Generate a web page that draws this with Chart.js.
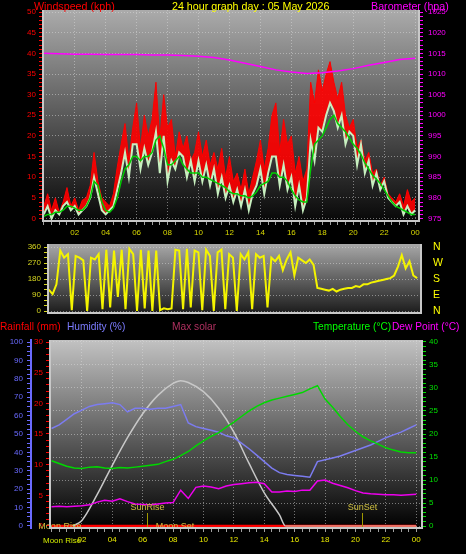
<!DOCTYPE html>
<html>
<head>
<meta charset="utf-8">
<title>24 hour graph</title>
<script src="https://cdn.jsdelivr.net/npm/chart.js@4.4.1/dist/chart.umd.min.js"></script>
<style>
  html, body { margin: 0; padding: 0; background: #000; }
  body { position: relative; width: 466px; height: 554px; overflow: hidden; font-family: "Liberation Sans", Arial, sans-serif; }
  canvas { position: absolute; left: 0; }
  .txt { position: absolute; white-space: nowrap; line-height: 12px; }
</style>
</head>
<body>
<canvas id="windChart" width="466" height="243" style="top:0"></canvas>
<canvas id="dirChart" width="466" height="87" style="top:235px"></canvas>
<canvas id="climateChart" width="466" height="224" style="top:330px"></canvas>

<div class="txt" style="left:34px;top:0;font-size:10.7px;color:#ff0000">Windspeed (kph)</div>
<div class="txt" style="left:172px;top:0;font-size:10.7px;color:#ffff00">24 hour graph day : 05 May 2026</div>
<div class="txt" style="left:371px;top:0;font-size:10.7px;color:#ff00ff">Barometer (hpa)</div>

<div class="txt" style="left:0;top:321px;font-size:10.2px;color:#ff0000">Rainfall (mm)</div>
<div class="txt" style="left:67px;top:321px;font-size:10.2px;color:#7c7cff">Humidity (%)</div>
<div class="txt" style="left:172px;top:321px;font-size:10.2px;color:#b03060">Max solar</div>
<div class="txt" style="left:313px;top:321px;font-size:10.2px;color:#00ff00">Temperature (°C)</div>
<div class="txt" style="left:392px;top:321px;font-size:10.2px;color:#ff00ff">Dew Point (°C)</div>
<div class="txt" style="left:43px;top:535px;font-size:8px;color:#d0e800">Moon Rise</div>

<script>
// Wind (kph), every 15 minutes from 00:00 to 24:00
const windGust = [
  3, 6, 2, 5, 1.5,
  4, 7.5, 3, 5,
  2, 4.5, 5, 8,
  16, 9, 5,
  4, 3, 6, 12.5,
  18, 23, 14, 22,
  28, 17, 25, 20,
  24, 33, 19, 30,
  22, 24, 15, 21,
  17, 20, 14, 16,
  21, 15, 19, 13,
  16, 12, 17, 10,
  15, 9, 11, 7,
  12, 6, 10, 14,
  19, 12, 17, 25,
  28, 16, 24, 18,
  20, 11, 15, 9,
  12, 33, 28, 36,
  31, 35, 38, 33,
  29, 33, 25, 22,
  24, 17, 19, 14,
  16, 11, 12, 8,
  10, 6, 5, 4,
  6, 3, 7, 4, 5
];
const windSpeed = [
  1, 3, 0, 2, 1,
  3, 4, 2, 3,
  1, 2, 3, 5,
  10, 6, 2,
  1, 2, 3, 7,
  11, 16, 10, 18,
  18, 12, 17, 13,
  16, 21, 11, 20,
  9, 14, 12, 16,
  15, 10, 14, 9,
  14, 9, 13, 8,
  12, 6, 10, 5,
  8, 4, 7, 3,
  7, 2, 6, 8,
  12, 6, 11, 15,
  15, 8, 13, 7,
  10, 3, 8, 2,
  5, 19, 14, 22,
  21, 25, 28, 26,
  22, 25, 18, 21,
  20, 13, 18, 11,
  14, 8, 11, 7,
  9, 5, 4, 3,
  4, 1, 3, 1, 2
];
const windAvg = [
  0.5, 1, 1, 1.5, 1.5,
  2, 3, 3, 2.5,
  2, 2, 3, 5,
  9, 8, 4,
  2, 1.5, 2.5, 5,
  9, 12, 13, 15,
  15, 14, 15, 15,
  16, 19, 20, 17,
  13, 13, 14, 15,
  13, 12, 11, 11,
  11, 10, 10, 9.5,
  9, 8.5, 8, 7.5,
  6.5, 6, 6, 5.5,
  5.5, 5, 5.5, 6.5,
  8, 8.5, 9, 11,
  11, 10, 10, 9,
  7, 5.5, 4.5, 4,
  4, 12, 18, 19,
  20, 22, 24, 25,
  23, 22, 21, 19.5,
  18, 17, 15.5, 13.5,
  12, 10.5, 9.5, 8.5,
  7, 5.5, 4, 3,
  2.5, 2, 1.5, 1, 1
];

// Barometer (hpa), hourly
const barometer = [
  1015.0, 1014.9, 1014.8, 1014.8, 1014.7, 1014.7, 1014.7, 1014.6, 1014.6, 1014.5,
  1014.3, 1014.0, 1013.4, 1012.6, 1011.8, 1011.0, 1010.5, 1010.1, 1010.3, 1010.7,
  1011.3, 1012.1, 1012.8, 1013.5, 1013.8
];

// Wind direction (degrees), every 15 minutes
const windDir = [
  120, 95, 150, 340,
  300, 320, 5, 310,
  300, 285, 0, 300,
  290, 320, 10, 345,
  20, 340, 80, 345,
  10, 350, 320, 0,
  345, 15, 340, 0,
  340, 5, 15, 10,
  15, 345, 340, 10,
  350, 20, 340, 330,
  5, 345, 310, 0,
  330, 345, 10, 320,
  300, 0, 320, 290,
  330, 10, 320, 300,
  310, 20, 300, 280,
  310, 230, 290, 330,
  200, 300, 285, 270,
  290, 260, 130, 125,
  120, 115, 125, 110,
  120, 125, 130, 130,
  140, 135, 150, 150,
  160, 165, 170, 175,
  180, 185, 200, 250,
  315, 240, 280, 200, 185
];

// Humidity (%), temperature and dew point (°C), every 30 minutes
const humidity = [
  53, 55, 58, 61, 63, 65, 66, 66.5, 67, 66,
  62, 64, 64, 63.5, 64, 64, 65, 66, 56, 54,
  53, 52, 51, 49, 48, 45, 42, 38.5, 35, 31.5,
  29, 28, 27.5, 27, 26.5, 35, 36, 37, 38, 39.5,
  41, 42.5, 44, 46, 48, 49.5, 51, 53, 55
];
const temperature = [
  14.2, 13.6, 13, 12.6, 12.5, 12.8, 12.9, 12.6, 12.5, 12.7,
  12.6, 12.8, 13, 13.2, 13.4, 14, 14.5, 15.3, 16.2, 17.4,
  18.5, 19.5, 20.3, 21.5, 22.6, 23.8, 25, 26, 26.8, 27.4,
  27.8, 28.2, 28.6, 29, 29.8, 30.5, 27.6, 25.8, 23.8, 22,
  20.6, 19.4, 18.5, 17.8, 17, 16.5, 16.1, 15.9, 15.9
];
const dewPoint = [
  4.2, 4.3, 4.2, 4.3, 4.4, 4.6, 5.2, 5.6, 5.4, 5.9,
  5.3, 4.8, 4.7, 4.6, 4.8, 5, 5.1, 7.8, 6, 8.4,
  8.7, 8.5, 8.1, 8.7, 9, 9.2, 9.4, 9.5, 9.2, 7.4,
  7.4, 7.6, 7.5, 7.8, 7.8, 9.8, 10, 9.3, 8.8, 8.3,
  7.7, 7.2, 7, 6.9, 6.8, 6.8, 6.7, 6.8, 6.9
];

// Max solar curve (on the humidity scale) and rainfall (mm)
const solarHours = [1.4, 2, 3, 4, 5, 6, 7, 8, 8.5, 9, 10, 11, 12, 13, 14, 15, 15.4, 24];
const maxSolar = [0, 3, 17, 33, 48, 61, 71, 77.5, 79, 78, 73, 64, 51, 34, 18, 6, 0, 0];
const rainHours = [0, 6, 12, 18, 24];
const rainfall = [0, 0, 0, 0, 0];

// Sun and moon events (hour of the day)
const sunEvents = ['SunRise', 'SunSet'];
const sunHours = [6.3, 20.45];
const moonEvents = ['Moon Rise', 'Moon Set'];
const moonHours = [0.55, 8.13];

// Tick labels
const hourTicks = [2, 4, 6, 8, 10, 12, 14, 16, 18, 20, 22, 24];
const hourLabels = ['02', '04', '06', '08', '10', '12', '14', '16', '18', '20', '22', '00'];
const dirTicks = [0, 90, 180, 270, 360];
const compassLabels = ['N', 'E', 'S', 'W', 'N'];

// Utils
const quarterHours = windGust.map((_, i) => i * 0.25);
const hours = barometer.map((_, i) => i);
const halfHours = humidity.map((_, i) => i * 0.5);
const toPoints = (xs, ys) => ys.map((y, i) => ({ x: xs[i], y: y }));
const isMult = (v, m) => Math.abs(v / m - Math.round(v / m)) < 1e-6;
const GRID = 'rgba(220,220,220,0.5)';

// Ticks on every multiple of the step inside the scale range
const stepTicks = step => scale => {
  const t = [];
  for (let k = Math.ceil(scale.min / step - 1e-9); k * step <= scale.max + 1e-9; k++) {
    t.push({ value: +(k * step).toFixed(6) });
  }
  scale.ticks = t;
};

Chart.defaults.font.family = '"Liberation Sans", Arial, sans-serif';
Chart.defaults.font.size = 8;

// Gray gradient background and light frame of each plot
const panelPlugin = {
  id: 'panel',
  beforeDraw(chart, args, opts) {
    const { ctx, chartArea: a } = chart;
    const g = ctx.createLinearGradient(0, a.top, 0, a.bottom);
    g.addColorStop(0, opts.top);
    g.addColorStop(1, opts.bottom);
    ctx.save();
    ctx.fillStyle = g;
    ctx.fillRect(a.left, a.top, a.right - a.left, a.bottom - a.top);
    ctx.restore();
  },
  afterDraw(chart) {
    const { ctx, chartArea: a } = chart;
    ctx.save();
    ctx.lineWidth = 2;
    ctx.strokeStyle = '#c8c8c8';
    ctx.beginPath();
    ctx.moveTo(a.left, a.top);
    ctx.lineTo(a.left, a.bottom);
    ctx.lineTo(a.right, a.bottom);
    ctx.lineTo(a.right, a.top);
    ctx.stroke();
    ctx.restore();
  }
};

// Sunrise / sunset markers and moon labels
const sunMoonPlugin = {
  id: 'sunMoon',
  afterDatasetsDraw(chart) {
    const { ctx, chartArea: a, scales } = chart;
    ctx.save();
    ctx.font = '9px "Liberation Sans", Arial, sans-serif';
    ctx.textAlign = 'center';
    sunEvents.forEach((name, i) => {
      const px = Math.round(scales.x.getPixelForValue(sunHours[i])) + 0.5;
      ctx.strokeStyle = '#a09800';
      ctx.lineWidth = 1;
      ctx.beginPath();
      ctx.moveTo(px, a.bottom - 15);
      ctx.lineTo(px, a.bottom);
      ctx.stroke();
      ctx.fillStyle = '#d0c040';
      ctx.fillText(name, px, a.bottom - 18);
    });
    moonEvents.forEach((name, i) => {
      ctx.fillStyle = '#d0c040';
      ctx.fillText(name, scales.x.getPixelForValue(moonHours[i]), a.bottom + 1);
    });
    ctx.restore();
  }
};

function timeAxis(o) {
  return {
    type: 'linear',
    min: o.min,
    max: o.max,
    display: o.display !== false,
    afterBuildTicks: stepTicks(0.5),
    afterFit: s => { s.height = o.height; },
    ticks: {
      autoSkip: false, maxRotation: 0, padding: 3, color: o.color,
      callback: v => {
        const i = hourTicks.findIndex(h => Math.abs(h - v) < 1e-6);
        return i < 0 ? '' : hourLabels[i];
      }
    },
    grid: {
      color: c => (c.tick && isMult(c.tick.value, 2) && c.tick.value > 0) ? GRID : 'transparent',
      tickColor: '#a0a0a0',
      tickLength: 4
    },
    border: { display: false, dash: [1, 2] }
  };
}

function valueAxis(o) {
  return {
    type: 'linear',
    position: o.pos,
    weight: o.weight || 0,
    min: o.min,
    max: o.max,
    afterBuildTicks: stepTicks(o.step),
    afterFit: s => { s.width = o.width; },
    ticks: {
      autoSkip: false, padding: o.pad, color: o.color,
      font: o.font ? { size: o.font } : undefined,
      callback: o.labels || (v => isMult(v, o.every) ? String(v) : '')
    },
    grid: {
      drawOnChartArea: !!o.grid,
      color: c => (o.grid && c.tick && isMult(c.tick.value, o.grid)) ? GRID : 'transparent',
      tickColor: o.tickColor || o.color,
      tickLength: o.tickLength || 4
    },
    border: { display: !!o.border, color: o.border, width: 2, dash: [1, 2] }
  };
}

const common = {
  responsive: false,
  animation: false,
  devicePixelRatio: 1,
  elements: { point: { radius: 0 }, line: { tension: 0 } }
};

// Windspeed and barometer
new Chart(document.getElementById('windChart'), {
  type: 'line',
  data: {
    datasets: [
      { label: 'Gust', data: toPoints(quarterHours, windGust), borderColor: '#ff0000', borderWidth: 1,
        backgroundColor: 'rgba(255,0,0,0.9)', fill: '+1', order: 3 },
      { label: 'Speed', data: toPoints(quarterHours, windSpeed), borderColor: '#c8f0c0', borderWidth: 2, order: 2 },
      { label: 'Average', data: toPoints(quarterHours, windAvg), borderColor: '#00cc00', borderWidth: 1.5, order: 1 },
      { label: 'Barometer', data: toPoints(hours, barometer), borderColor: '#ff00ff', borderWidth: 1.5,
        yAxisID: 'yBaro', order: 0 }
    ]
  },
  options: {
    ...common,
    layout: { padding: { top: 10 } },
    plugins: { legend: { display: false }, tooltip: { enabled: false }, panel: { top: '#ababab', bottom: '#080808' } },
    scales: {
      x: timeAxis({ min: -0.05, max: 24.25, height: 22, color: '#d8d800' }),
      y: valueAxis({ pos: 'left', min: -0.6, max: 50.5, step: 1, every: 5, grid: 5, width: 43, pad: 3, color: '#ff0000' }),
      yBaro: valueAxis({ pos: 'right', min: 974.4, max: 1025.5, step: 1, every: 5, width: 47, pad: 5, color: '#ff00ff' })
    }
  },
  plugins: [panelPlugin]
});

// Wind direction
new Chart(document.getElementById('dirChart'), {
  type: 'line',
  data: {
    datasets: [
      { label: 'Direction', data: toPoints(quarterHours, windDir), borderColor: '#f4f400', borderWidth: 2 }
    ]
  },
  options: {
    ...common,
    layout: { padding: { top: 9, bottom: 9 } },
    plugins: { legend: { display: false }, tooltip: { enabled: false }, panel: { top: '#a8a8a8', bottom: '#1c1c1c' } },
    scales: {
      x: timeAxis({ min: -0.05, max: 24.25, height: 0, display: false }),
      y: valueAxis({ pos: 'left', min: -11, max: 377, step: 30, every: 90, grid: 90, width: 48, pad: 3, color: '#d8d820' }),
      yDir: valueAxis({ pos: 'right', min: -11, max: 377, step: 90, width: 45, pad: 2, color: '#ffff00', font: 10.5,
        tickColor: 'transparent', tickLength: 10,
        labels: v => { const i = dirTicks.indexOf(v); return i < 0 ? '' : compassLabels[i]; } })
    }
  },
  plugins: [panelPlugin]
});

// Rainfall, humidity, max solar, temperature and dew point
new Chart(document.getElementById('climateChart'), {
  type: 'line',
  data: {
    datasets: [
      { label: 'Dew Point', data: toPoints(halfHours, dewPoint), borderColor: '#ee00ee', borderWidth: 1.5,
        yAxisID: 'yTemp', order: 1 },
      { label: 'Temperature', data: toPoints(halfHours, temperature), borderColor: '#00d800', borderWidth: 1.5,
        yAxisID: 'yTemp', order: 2 },
      { label: 'Humidity', data: toPoints(halfHours, humidity), borderColor: '#7c7cf0', borderWidth: 1.5,
        yAxisID: 'yHum', order: 3 },
      { label: 'Max solar', data: toPoints(solarHours, maxSolar), borderColor: '#c8c8c8', borderWidth: 1.5,
        yAxisID: 'yHum', order: 4, cubicInterpolationMode: 'monotone',
        segment: { borderColor: c => (c.p0.parsed.y === 0 && c.p1.parsed.y === 0) ? '#e49282' : '#c8c8c8' } },
      { label: 'Rainfall', data: toPoints(rainHours, rainfall), borderColor: '#ff0000', borderWidth: 2.5,
        yAxisID: 'yRain', order: 5 }
    ]
  },
  options: {
    ...common,
    layout: { padding: { top: 10 } },
    plugins: { legend: { display: false }, tooltip: { enabled: false }, panel: { top: '#c2c2c2', bottom: '#000000' } },
    scales: {
      x: timeAxis({ min: -0.1, max: 24.38, height: 26, color: '#e8e800' }),
      yHum: valueAxis({ pos: 'left', weight: 1, min: -1.09, max: 101.09, step: 2.5, every: 10, width: 31, pad: 4,
        color: '#6a6aff', border: '#6a6aff' }),
      yRain: valueAxis({ pos: 'left', weight: 0, min: -0.33, max: 30.33, step: 1, every: 5, width: 19, pad: 3,
        color: '#ff0000' }),
      yTemp: valueAxis({ pos: 'right', min: -0.43, max: 40.43, step: 1, every: 5, grid: 5, width: 44, pad: 3,
        color: '#00e000' })
    }
  },
  plugins: [panelPlugin, sunMoonPlugin]
});
</script>
</body>
</html>
